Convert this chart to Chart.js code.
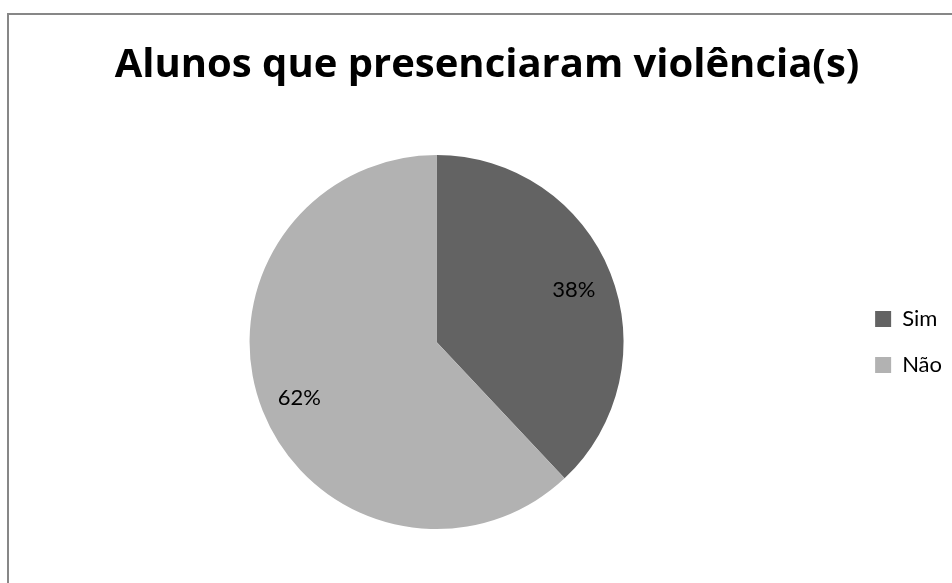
<!DOCTYPE html>
<html>
<head>
<meta charset="utf-8">
<script src="https://cdn.jsdelivr.net/npm/chart.js@4"></script>
<style>
  html, body { margin: 0; padding: 0; background: #fff; overflow: hidden; }
  #wrap { position: relative; width: 952px; height: 583px; overflow: hidden; }
  #frame { position: absolute; left: 7px; top: 13px; width: 1000px; height: 1000px; border: 2px solid #878787; }
  #chart { position: absolute; left: 0; top: 0; }
</style>
</head>
<body>
<div id="wrap">
  <div id="frame"></div>
  <canvas id="chart" width="952" height="583"></canvas>
</div>
<script>
let categories = ["Sim", "Não"];
let percentValues = [38, 62];
let sliceColors = ["#636363", "#b2b2b2"];
let chartTitle = "Alunos que presenciaram violência(s)";

// draws the % labels inside each slice
const sliceLabels = {
    id: "sliceLabels",
    afterDatasetsDraw(chart) {
        const ctx = chart.ctx;
        const meta = chart.getDatasetMeta(0);
        const data = chart.data.datasets[0].data;
        let total = 0;
        for (let i = 0; i < data.length; i++) {
            total += data[i];
        }
        ctx.save();
        ctx.font = "22px Lato";
        ctx.fillStyle = "#000";
        ctx.textAlign = "center";
        ctx.textBaseline = "middle";
        meta.data.forEach((arc, i) => {
            const p = arc.getProps(["x", "y", "startAngle", "endAngle", "outerRadius"], true);
            const mid = (p.startAngle + p.endAngle) / 2;
            const r = p.outerRadius * 0.79;
            ctx.fillText(Math.round(data[i] / total * 100) + "%", p.x + Math.cos(mid) * r, p.y + Math.sin(mid) * r + 2);
        });
        ctx.restore();
    }
};

new Chart(document.getElementById("chart"), {
    type: "pie",
    data: {
        labels: categories,
        datasets: [{
            data: percentValues,
            backgroundColor: sliceColors,
            borderWidth: 0
        }]
    },
    options: {
        responsive: false,
        animation: false,
        layout: { padding: { left: 22, top: 0, right: 0, bottom: 54 } },
        plugins: {
            title: {
                display: true,
                text: chartTitle,
                color: "#000",
                font: { family: "'Open Sans'", size: 40, weight: "bold", lineHeight: 1.2 },
                padding: { top: 42, bottom: 65 }
            },
            legend: {
                position: "right",
                fullSize: false,
                labels: {
                    color: "#000",
                    font: { family: "Lato", size: 22 },
                    boxWidth: 16,
                    boxHeight: 16,
                    padding: 24
                }
            },
            tooltip: { enabled: false }
        }
    },
    plugins: [sliceLabels]
});
</script>
</body>
</html>
